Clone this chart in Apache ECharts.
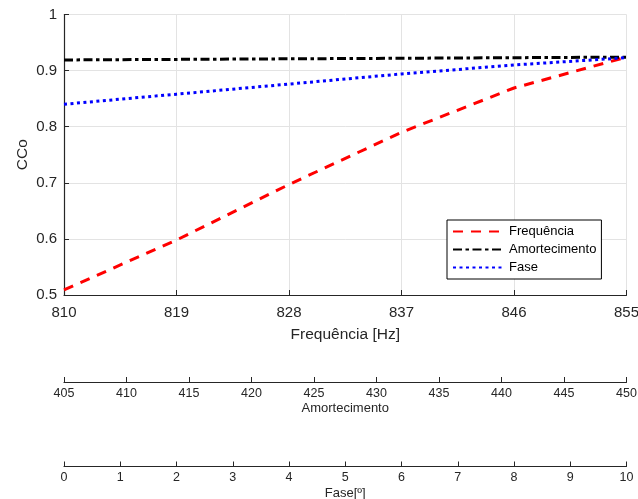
<!DOCTYPE html>
<html>
<head>
<meta charset="utf-8">
<script src="https://cdn.jsdelivr.net/npm/echarts@6/dist/echarts.min.js"></script>
<style>html,body{margin:0;padding:0;background:#fff}#c{width:638px;height:499px}</style>
</head>
<body>
<div id="c"></div>
<script>
var freq = [810, 819, 828, 837, 846, 855];
var serieFrequencia = [0.509, 0.598, 0.697, 0.790, 0.869, 0.924];
var serieAmortecimento = [0.919, 0.920, 0.921, 0.922, 0.923, 0.924];
var serieFase = [0.840, 0.858, 0.876, 0.894, 0.910, 0.923];
var names = ['Frequência', 'Amortecimento', 'Fase'];

function pairs(xs, ys) { return xs.map(function (x, i) { return [x, ys[i]]; }); }

var FONT = 'Liberation Sans, Arial, sans-serif';
var TXT = '#262626';
var chart = echarts.init(document.getElementById('c'), null, { renderer: 'canvas' });

function lowerAxis(min, max, interval, name, offset) {
  return {
    type: 'value', position: 'bottom', offset: offset, min: min, max: max, interval: interval,
    name: name, nameLocation: 'middle', nameGap: 20, nameMoveOverlap: false,
    nameTextStyle: { color: TXT, fontSize: 13, fontFamily: FONT },
    axisLine: { show: true, onZero: false, lineStyle: { color: TXT, width: 1.2 } },
    axisTick: { show: true, inside: true, length: 5, lineStyle: { color: TXT } },
    axisLabel: { color: TXT, fontSize: 12.5, fontFamily: FONT, margin: 5 },
    splitLine: { show: false }
  };
}

chart.setOption({
  animation: false,
  backgroundColor: '#fff',
  grid: { left: 64, right: 11.5, top: 14.5, height: 280.5, containLabel: false, outerBoundsMode: 'none' },
  legend: {
    orient: 'vertical', left: 447, top: 220,
    itemWidth: 51, itemHeight: 14, itemGap: 5, padding: [5, 5, 5, 5],
    borderColor: '#000', borderWidth: 1, backgroundColor: '#fff',
    textStyle: { color: '#000', fontSize: 13, fontFamily: FONT },
    data: names
  },
  xAxis: [
    {
      type: 'value', min: 810, max: 855, interval: 9,
      name: 'Frequência [Hz]', nameLocation: 'middle', nameGap: 32, nameMoveOverlap: false,
      nameTextStyle: { color: TXT, fontSize: 15.5, fontFamily: FONT },
      axisLine: { show: true, onZero: false, lineStyle: { color: TXT, width: 1.2 } },
      axisTick: { show: true, inside: true, length: 5, lineStyle: { color: TXT } },
      axisLabel: { color: TXT, fontSize: 15, fontFamily: FONT, margin: 10 },
      splitLine: { show: true, lineStyle: { color: '#e3e3e3', width: 1 } }
    },
    lowerAxis(405, 450, 5, 'Amortecimento', 87),
    lowerAxis(0, 10, 1, 'Fase[º]', 171.5)
  ],
  yAxis: {
    type: 'value', min: 0.5, max: 1, interval: 0.1,
    name: 'CCo', nameLocation: 'middle', nameGap: 33, nameMoveOverlap: false,
    nameTextStyle: { color: TXT, fontSize: 15.5, fontFamily: FONT },
    axisLine: { show: true, onZero: false, lineStyle: { color: TXT, width: 1.2 } },
    axisTick: { show: true, inside: true, length: 5, lineStyle: { color: TXT } },
    axisLabel: { color: TXT, fontSize: 15, fontFamily: FONT, margin: 7 },
    splitLine: { show: true, lineStyle: { color: '#e3e3e3', width: 1 } }
  },
  series: [
    {
      name: names[0], type: 'line', xAxisIndex: 0, showSymbol: false, symbol: 'none',
      data: pairs(freq, serieFrequencia),
      lineStyle: { color: '#ff0000', width: 3, type: [10, 8] }, itemStyle: { color: 'rgba(0,0,0,0)' }
    },
    {
      name: names[1], type: 'line', xAxisIndex: 0, showSymbol: false, symbol: 'none',
      data: pairs(freq, serieAmortecimento),
      lineStyle: { color: '#000000', width: 3, type: [9, 3.5, 3.5, 3.5] }, itemStyle: { color: 'rgba(0,0,0,0)' }
    },
    {
      name: names[2], type: 'line', xAxisIndex: 0, showSymbol: false, symbol: 'none',
      data: pairs(freq, serieFase),
      lineStyle: { color: '#0000ff', width: 3, type: [3, 3.5] }, itemStyle: { color: 'rgba(0,0,0,0)' }
    }
  ]
});
</script>
</body>
</html>
